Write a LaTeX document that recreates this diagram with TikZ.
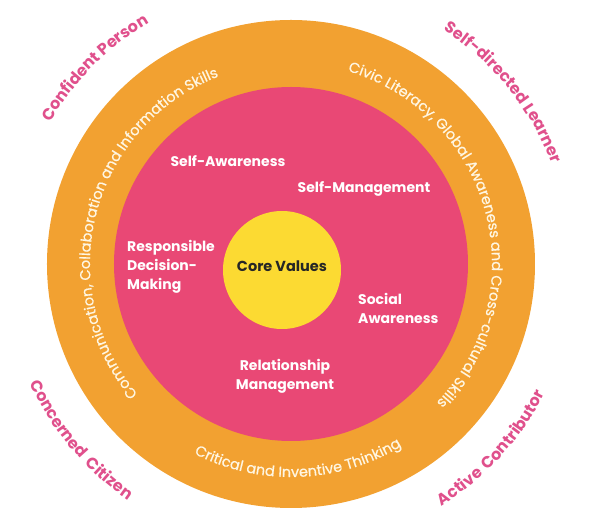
\documentclass[tikz,border=0pt]{standalone}
\usepackage{fontspec}
\setmainfont{Poppins}
\newfontfamily\cvRingFam[FakeBold=0.7]{Poppins}
\usetikzlibrary{decorations.text}
\definecolor{cvOrange}{HTML}{F2A131}
\definecolor{cvPink}{HTML}{E94875}
\definecolor{cvYellow}{HTML}{FCDA32}
\definecolor{cvRose}{HTML}{E0508C}
\definecolor{cvCream}{HTML}{FFF6E2}
\newcommand{\cvRingFont}{\cvRingFam\fontsize{14.5}{17}\selectfont\color{cvCream}}
\newcommand{\cvOuterFont}{\fontsize{16}{19}\selectfont\bfseries\color{cvRose}}
\begin{document}
\begin{tikzpicture}[x=1pt,y=1pt,
    cvLabelP/.style={font=\fontsize{14}{19}\selectfont\bfseries,text=white,inner sep=0pt},
    cvArcP/.style={decorate,decoration={text along path,text align=center,text={#1}}},
]
\fill[white] (-291,-268) rectangle (307,264);
\useasboundingbox (-291,-268) rectangle (307,264);
% rings
\fill[cvOrange] (0,0) circle (244);
\fill[cvPink] (0,0) circle (177);
\fill[cvYellow] (-9,-6) circle (59);
\node[font=\fontsize{14.5}{17}\selectfont\bfseries,text=black!85,inner sep=0pt] (core) at (-9,-2) {Core Values};
% competencies
\node[cvLabelP] (selfAware) at (-63,103) {Self-Awareness};
\node[cvLabelP] (selfManage) at (73,75) {Self-Management};
\node[cvLabelP,anchor=west,align=left] (respDecision) at (-164,-3) {Responsible\\Decision-\\Making};
\node[cvLabelP,anchor=west,align=left] (socialAware) at (67,-44.5) {Social\\Awareness};
\node[cvLabelP,align=center] (relManage) at (-6,-112.5) {Relationship\\Management};
% ring texts
\path[cvArcP={|\cvRingFont|Communication, Collaboration and Information Skills}] (165.7+80:201) arc[start angle=165.7+80,end angle=165.7-80,radius=201];
\path[cvArcP={|\cvRingFont|Civic Literacy, Global Awareness and Cross-cultural Skills}] (15+80:201) arc[start angle=15+80,end angle=15-80,radius=201];
\path[cvArcP={|\cvRingFont|Critical and Inventive Thinking}] (-87.9-60:213) arc[start angle=-87.9-60,end angle=-87.9+60,radius=213];
% outcomes
\path[cvArcP={|\cvOuterFont|Confident Person}] (135+40:279.5) arc[start angle=135+40,end angle=135-40,radius=279.5];
\path[cvArcP={|\cvOuterFont|Self-directed Learner}] (39+40:279.5) arc[start angle=39+40,end angle=39-40,radius=279.5];
\path[cvArcP={|\cvOuterFont|Concerned{\kern3pt} Citizen}] (220-40:287) arc[start angle=220-40,end angle=220+40,radius=287];
\path[cvArcP={|\cvOuterFont|Active{\kern2pt} Contributor}] (-42.6-40:285) arc[start angle=-42.6-40,end angle=-42.6+40,radius=285];
\end{tikzpicture}
\end{document}
